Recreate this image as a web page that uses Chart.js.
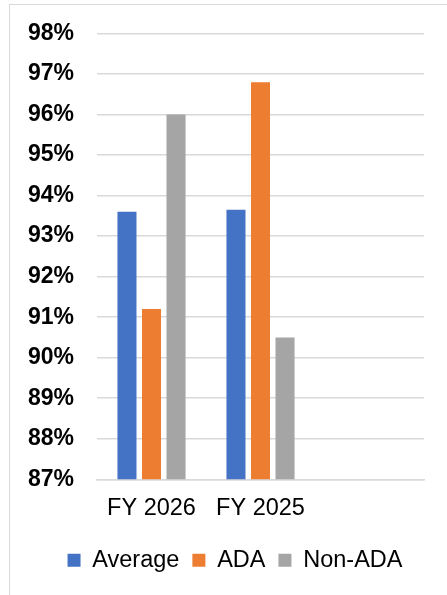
<!DOCTYPE html>
<html>
<head>
<meta charset="utf-8">
<script src="https://cdn.jsdelivr.net/npm/chart.js@4"></script>
<style>
  html, body { margin: 0; padding: 0; background: #fff; overflow: hidden; }
  #frame {
    position: absolute; left: 9px; top: 4px; width: 600px; height: 700px;
    border-left: 1.5px solid #d9d9d9; border-top: 1.5px solid #d9d9d9;
  }
  #wrap { position: absolute; left: 0; top: 0; width: 447px; height: 595px; }
</style>
</head>
<body>
<div id="frame"></div>
<div id="wrap"><canvas id="chart" width="447" height="595"></canvas></div>
<script>
const categories = ['FY 2026', 'FY 2025', '']
const averageValues = [93.6, 93.65, null]
const adaValues = [91.2, 96.8, null]
const nonAdaValues = [96.0, 90.5, null]

const fontFamily = '"Liberation Sans", Arial, sans-serif'
Chart.defaults.font.family = fontFamily
Chart.defaults.color = '#000'

const bar = {
  categoryPercentage: 0.675,
  barPercentage: 0.776,
  borderWidth: 0,
}

const data = {
  labels: categories,
  datasets: [
    { label: 'Average', data: averageValues, backgroundColor: '#4472C4', ...bar },
    { label: 'ADA', data: adaValues, backgroundColor: '#ED7D31', ...bar },
    { label: 'Non-ADA', data: nonAdaValues, backgroundColor: '#A5A5A5', ...bar },
  ],
}

// legend sits a bit right of the plot centre in the original
const legendShift = {
  id: 'legendShift',
  afterLayout: chart => {
    chart.legend.left += 23
    chart.legend.right += 23
  },
}

const options = {
  animation: false,
  responsive: false,
  layout: {
    padding: { top: 33.5, right: 23, left: 0, bottom: 13 },
  },
  scales: {
    x: {
      afterFit: scale => { scale.height = 56.2 },
      grid: { display: false, drawTicks: false },
      border: { display: true, color: '#d9d9d9', width: 1.5 },
      ticks: {
        padding: 15,
        font: { size: 23.5 },
        color: '#000',
      },
    },
    y: {
      min: 87,
      max: 98,
      afterFit: scale => { scale.width = 97 },
      // invisible tick marks keep the label gap without padding the chart area
      grid: { color: '#d9d9d9', lineWidth: 1.5, drawTicks: true, tickLength: 23, tickColor: 'transparent' },
      border: { display: false },
      ticks: {
        stepSize: 1,
        padding: 0,
        font: { size: 23, weight: 'bold' },
        color: '#000',
        callback: v => v + '%',
      },
    },
  },
  plugins: {
    legend: {
      position: 'bottom',
      labels: {
        boxWidth: 13,
        boxHeight: 13,
        padding: 13,
        font: { size: 23.5 },
        color: '#000',
      },
    },
    tooltip: { enabled: false },
  },
}

new Chart(document.getElementById('chart'), { type: 'bar', data, plugins: [legendShift], options })
</script>
</body>
</html>
